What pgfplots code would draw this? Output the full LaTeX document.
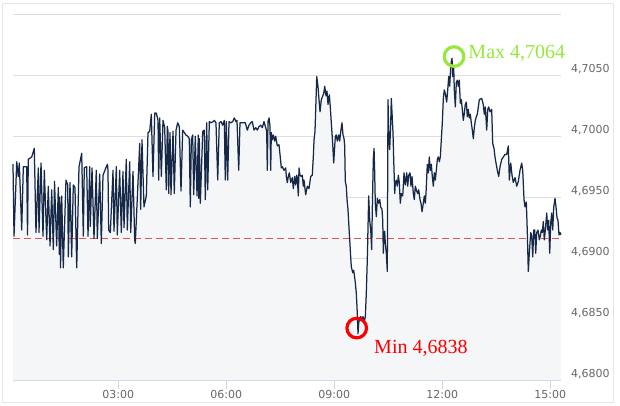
\documentclass[border=0pt]{standalone}
\usepackage{pgfplots}
\pgfplotsset{compat=1.18}
\usepackage{pgfplotstable}
\usepackage{fontspec}
\setmainfont{DejaVu Sans}
\newfontfamily\annfont{Liberation Serif}
\definecolor{linecol}{RGB}{22,40,72}
\definecolor{areacol}{RGB}{245,246,248}
\definecolor{gridcol}{RGB}{222,222,222}
\definecolor{axiscol}{RGB}{204,214,235}
\definecolor{labcol}{RGB}{102,102,102}
\definecolor{refred}{RGB}{225,85,85}
\definecolor{minred}{RGB}{250,0,0}
\definecolor{maxgreen}{RGB}{150,232,60}
\definecolor{framecol}{RGB}{230,230,230}

\pgfplotstableread{
x y
4.5 4.6977
6.2 4.6918
10.7 4.6979
13.3 4.6967
15.0 4.6978
19.0 4.6923
21.7 4.6975
27.3 4.6975
28.7 4.6919
30.0 4.6981
35.7 4.6983
40.0 4.6990
42.8 4.6921
46.7 4.6974
47.8 4.6921
51.2 4.6978
54.5 4.6918
56.7 4.6972
60.7 4.6915
63.3 4.6959
66.2 4.6910
69.0 4.6956
71.7 4.6907
73.7 4.6963
77.3 4.6910
80.0 4.6958
81.7 4.6903
82.5 4.6950
83.7 4.6892
85.7 4.6951
88.3 4.6892
92.8 4.6964
95.7 4.6960
96.7 4.6901
99.5 4.6962
102.3 4.6901
105.0 4.6960
107.8 4.6958
110.7 4.6892
114.5 4.6975
119.0 4.6986
121.7 4.6918
123.3 4.6974
127.3 4.6975
129.5 4.6918
132.3 4.6975
133.3 4.6926
136.2 4.6974
139.5 4.6916
143.3 4.6972
145.0 4.6916
149.0 4.6969
151.7 4.6912
154.5 4.6968
160.0 4.6975
162.0 4.6977
162.8 4.6972
164.0 4.6923
166.7 4.6921
171.2 4.6972
172.8 4.6922
176.7 4.6975
178.3 4.6919
182.3 4.6972
185.0 4.6921
187.8 4.6971
189.5 4.6925
193.3 4.6981
195.0 4.6923
199.0 4.6979
200.7 4.6921
204.5 4.6971
207.3 4.6915
208.3 4.6912
212.8 4.6962
215.7 4.6994
217.3 4.6940
219.5 4.6997
222.8 4.6942
226.7 4.6951
229.5 4.7003
232.3 4.7004
235.0 4.7018
237.8 4.6967
240.7 4.7019
243.3 4.7019
246.2 4.7013
247.3 4.6964
249.0 4.7015
251.7 4.6967
254.5 4.7013
257.3 4.7007
260.0 4.6956
261.7 4.7008
262.8 4.7004
264.0 4.6953
266.2 4.7003
267.8 4.6952
271.2 4.7004
273.3 4.6953
276.2 4.7005
279.0 4.7011
281.7 4.7008
284.5 4.6955
287.3 4.7005
290.0 4.7003
292.8 4.7001
295.7 4.7000
298.3 4.6998
300.0 4.6942
301.7 4.6997
304.0 4.7001
305.7 4.6952
308.3 4.7000
311.2 4.6951
313.3 4.7001
314.0 4.6949
315.0 4.6998
316.7 4.6945
320.7 4.7004
323.3 4.7005
325.0 4.6948
327.3 4.7011
329.0 4.6956
331.7 4.7012
334.5 4.7011
338.3 4.7012
340.0 4.7013
342.8 4.7011
345.7 4.6964
348.3 4.7011
351.2 4.7012
354.0 4.7009
356.7 4.7013
358.3 4.6964
360.0 4.7012
362.3 4.6964
364.5 4.7012
367.8 4.7011
370.7 4.7012
373.3 4.7015
376.2 4.7012
377.8 4.7013
380.7 4.6972
382.8 4.7011
387.3 4.7011
391.7 4.7011
395.0 4.7005
397.8 4.7009
400.7 4.7011
403.3 4.7012
406.2 4.7005
409.0 4.7007
411.7 4.7005
414.5 4.7008
417.3 4.7009
420.0 4.7007
422.8 4.7012
425.7 4.7007
427.3 4.7004
428.3 4.6972
429.5 4.7012
431.2 4.7015
432.8 4.7008
434.0 4.6972
435.0 4.7003
436.7 4.6997
438.3 4.7001
440.7 4.6996
442.3 4.7000
445.0 4.6992
447.8 4.6993
449.5 4.6985
451.7 4.6974
453.3 4.6975
456.2 4.6972
459.0 4.6974
460.0 4.6967
461.7 4.6962
463.3 4.6967
465.0 4.6970
467.3 4.6962
470.0 4.6966
471.7 4.6957
474.0 4.6967
475.7 4.6960
477.3 4.6968
478.3 4.6966
480.0 4.6951
481.2 4.6974
482.8 4.6968
485.0 4.6967
486.7 4.6968
488.3 4.6959
489.5 4.6964
492.3 4.6952
495.0 4.6959
497.8 4.6957
500.7 4.6967
503.3 4.6968
505.0 4.6983
506.2 4.6997
507.8 4.7004
509.0 4.7022
510.7 4.7049
512.8 4.7041
514.5 4.7030
516.2 4.7020
518.3 4.7030
520.7 4.7033
522.3 4.7035
524.0 4.7041
526.2 4.7033
527.8 4.7037
529.5 4.7026
531.7 4.7034
533.3 4.7024
535.0 4.7011
537.3 4.6994
539.0 4.6978
540.7 4.6992
541.7 4.7000
543.3 4.7001
545.0 4.6996
547.3 4.7001
549.0 4.6996
550.7 4.7004
552.8 4.7011
554.5 4.7001
556.2 4.6998
557.3 4.6992
558.3 4.6963
560.0 4.6959
561.2 4.6948
562.8 4.6940
564.0 4.6929
565.7 4.6915
567.3 4.6901
568.3 4.6893
570.7 4.6888
572.3 4.6890
574.0 4.6884
575.0 4.6880
576.7 4.6871
578.3 4.6855
579.5 4.6838
580.7 4.6847
582.3 4.6851
584.0 4.6852
586.2 4.6849
587.8 4.6852
590.0 4.6848
591.7 4.6852
593.3 4.6871
595.0 4.6899
597.3 4.6951
599.0 4.6931
600.7 4.6923
602.3 4.6907
603.3 4.6940
605.0 4.6981
606.2 4.6990
607.3 4.6970
608.3 4.6945
610.0 4.6934
611.7 4.6949
614.0 4.6945
615.7 4.6948
617.3 4.6942
619.5 4.6940
620.7 4.6931
621.7 4.6904
622.8 4.6921
624.0 4.6922
625.0 4.6912
626.7 4.6904
628.3 4.6889
629.5 4.7030
630.7 4.7000
632.3 4.6989
634.0 4.7011
635.0 4.7031
636.2 4.7019
637.8 4.7003
639.0 4.6981
640.7 4.6953
641.7 4.6962
643.3 4.6964
645.0 4.6959
646.7 4.6968
648.3 4.6962
650.0 4.6945
651.7 4.6953
654.0 4.6951
656.2 4.6970
658.3 4.6960
660.7 4.6970
662.3 4.6959
664.0 4.6968
666.2 4.6970
667.8 4.6959
669.5 4.6967
671.7 4.6953
673.3 4.6948
675.0 4.6959
677.3 4.6955
679.0 4.6953
680.7 4.6956
682.8 4.6948
684.5 4.6945
686.2 4.6938
688.3 4.6945
690.0 4.6951
691.7 4.6945
692.8 4.6953
695.0 4.6977
696.7 4.6970
698.3 4.6983
700.0 4.6972
701.7 4.6977
703.3 4.6967
705.0 4.6959
706.7 4.6970
708.3 4.6964
710.0 4.6972
711.7 4.6981
713.3 4.6983
715.0 4.6979
716.7 4.6983
718.3 4.6997
720.0 4.7011
721.7 4.7031
723.3 4.7038
725.0 4.7035
727.3 4.7028
729.0 4.7038
730.7 4.7049
732.3 4.7041
734.0 4.7057
735.0 4.7061
736.2 4.7064
737.3 4.7049
739.0 4.7056
740.0 4.7038
741.7 4.7024
743.3 4.7044
745.0 4.7046
746.7 4.7041
748.3 4.7046
750.0 4.7027
751.7 4.7030
753.3 4.7022
755.0 4.7013
756.7 4.7019
758.3 4.7026
760.0 4.7028
761.7 4.7016
763.3 4.7022
765.0 4.7015
766.7 4.7018
768.3 4.7011
770.0 4.7005
771.7 4.6998
773.3 4.7007
775.0 4.7013
776.7 4.7016
778.3 4.7018
780.0 4.7024
781.7 4.7030
785.7 4.7031
788.3 4.7026
790.0 4.7018
791.7 4.7024
794.0 4.7005
795.7 4.7022
797.3 4.7024
799.5 4.7020
802.3 4.7022
804.0 4.6994
806.2 4.6990
807.8 4.6983
809.5 4.6978
811.7 4.6972
814.0 4.6967
816.2 4.6975
819.0 4.6981
821.7 4.6983
824.5 4.6985
827.3 4.6985
830.0 4.6992
831.7 4.6964
834.0 4.6978
836.2 4.6968
838.3 4.6962
841.2 4.6966
844.0 4.6959
846.7 4.6963
849.5 4.6972
852.3 4.6978
854.0 4.6972
856.2 4.6948
857.8 4.6942
860.0 4.6946
861.7 4.6921
863.3 4.6889
865.0 4.6904
867.3 4.6921
869.0 4.6918
870.7 4.6901
872.3 4.6923
874.0 4.6923
875.7 4.6904
877.3 4.6921
879.5 4.6923
881.7 4.6915
883.3 4.6918
885.0 4.6923
886.7 4.6921
888.3 4.6930
890.0 4.6915
891.7 4.6923
894.0 4.6937
895.7 4.6923
897.3 4.6931
899.0 4.6904
900.7 4.6929
902.3 4.6937
904.0 4.6923
905.7 4.6942
907.8 4.6949
909.5 4.6942
911.2 4.6933
912.8 4.6931
914.5 4.6919
916.2 4.6921
917.8 4.6919
}\ratedata

\begin{document}
\begin{tikzpicture}
\useasboundingbox (-13bp,-26bp) rectangle (607bp,380bp);
\draw[framecol, line width=1bp] (-10.3bp,-22.5bp) rectangle (600.3bp,376bp);
\begin{axis}[
  at={(0,0)}, anchor=south west,
  scale only axis, width=548bp, height=365.7bp,
  xmin=4.5, xmax=917.8, ymin=4.68, ymax=4.71,
  clip=false,
  axis x line*=bottom, axis y line*=right,
  x axis line style={draw=axiscol, line width=1bp},
  y axis line style={draw=none},
  xtick={180,360,540,720,900},
  xticklabels={03:00,06:00,09:00,12:00,15:00},
  ytick={4.68,4.685,4.69,4.695,4.70,4.705,4.71},
  yticklabels={{4,6800},{4,6850},{4,6900},{4,6950},{4,7000},{4,7050},{}},
  ymajorgrids, grid style={draw=gridcol, line width=1bp},
  xtick style={draw=axiscol, line width=1bp},
  ytick style={draw=none},
  tick align=outside, major tick length=9bp,
  ticklabel style={font=\fontsize{11bp}{13bp}\selectfont, text=labcol},
  yticklabel style={anchor=west, inner sep=0pt, xshift=1bp, yshift=6bp},
  xticklabel style={anchor=base, inner sep=0pt, yshift=-10bp},
]
\addplot[fill=areacol, draw=none] table[x=x,y=y] {\ratedata} \closedcycle;
\addplot[refred, line width=1bp, dash pattern=on 7bp off 4bp] coordinates {(4.5,4.6916) (917.8,4.6916)};
\addplot[linecol, line width=1.25bp, line join=round] table[x=x,y=y] {\ratedata};
\addplot[only marks, mark=o, mark size=9.8bp, mark options={draw=minred, line width=3.2bp, xshift=-1.3bp, yshift=5.6bp}] coordinates {(579.5,4.6838)};
\addplot[only marks, mark=o, mark size=9.8bp, mark options={draw=maxgreen, line width=3.2bp, xshift=2bp, yshift=1.6bp}] coordinates {(736.2,4.7064)};
\node[anchor=base west, inner sep=0pt, text=minred, font=\annfont\fontsize{20bp}{24bp}\selectfont] at (axis cs:606.2,4.6822) {Min 4,6838};
\node[anchor=base west, inner sep=0pt, text=maxgreen, font=\annfont\fontsize{20bp}{24bp}\selectfont] at (axis cs:763.3,4.7064) {Max 4,7064};
\end{axis}
\end{tikzpicture}
\end{document}
